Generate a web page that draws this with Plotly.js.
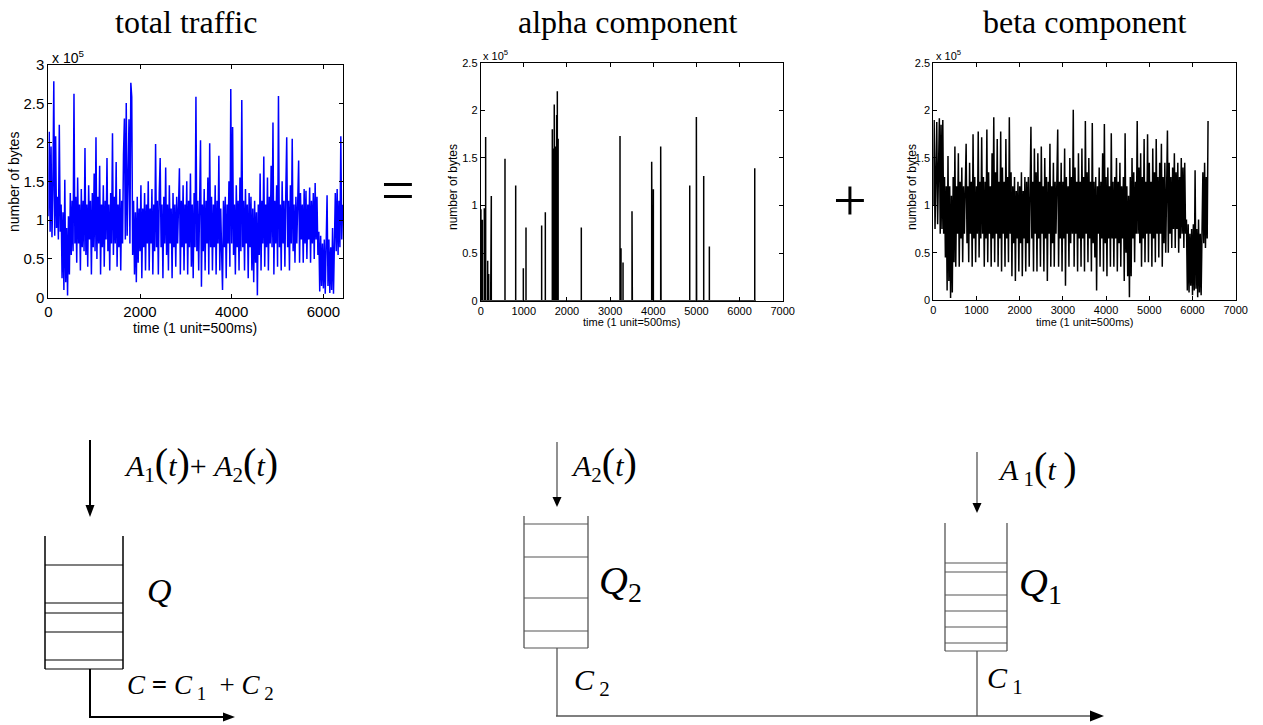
<!DOCTYPE html>
<html><head><meta charset="utf-8">
<script src="https://cdn.plot.ly/plotly-3.0.1.min.js"></script>
<style>html,body{margin:0;padding:0;background:#fff;} #chart{width:1263px;height:725px;}</style>
</head><body><div id="chart"></div>
<script>
// ---------------- DATA (values in units of 10^5 bytes) ----------------
const SAMPLE_STEP = 20; // time units (1 unit = 500 ms) between stored samples

const totalTraffic = [
  1.05, 2.14, 0.85, 1.95, 0.78, 1.40, 2.79, 0.80, 2.08, 0.90,
  1.30, 0.75, 2.23, 0.85, 1.20, 0.25, 1.10, 0.10, 1.52, 0.20,
  0.90, 0.03, 1.05, 0.30, 1.35, 0.55, 1.25, 0.60, 2.63, 0.70,
  1.30, 0.45, 1.55, 0.70, 1.20, 0.35, 1.40, 0.65, 1.25, 0.60,
  1.93, 0.55, 1.20, 0.40, 1.45, 0.75, 1.25, 0.30, 1.35, 0.65,
  1.60, 0.60, 2.07, 0.50, 1.30, 0.70, 1.70, 0.30, 1.20, 0.65,
  1.45, 0.40, 1.25, 0.75, 1.80, 0.60, 1.20, 0.35, 1.35, 0.70,
  2.12, 0.55, 1.30, 0.70, 1.75, 0.40, 1.20, 0.65, 1.40, 0.35,
  1.25, 0.70, 1.85, 2.31, 0.75, 2.51, 0.80, 1.60, 2.30, 0.70,
  2.77, 2.59, 0.55, 1.25, 0.30, 1.10, 0.20, 1.30, 0.45, 1.15,
  0.60, 1.45, 0.25, 1.15, 0.65, 1.35, 0.35, 1.20, 0.70, 1.50,
  0.35, 1.15, 0.70, 1.40, 0.30, 1.20, 0.60, 1.98, 0.65, 1.25,
  0.30, 1.35, 1.80, 0.65, 1.20, 0.25, 1.30, 0.70, 1.68, 0.55,
  1.20, 0.35, 1.45, 0.70, 1.15, 0.25, 1.35, 0.65, 1.20, 0.40,
  1.30, 0.70, 1.15, 1.67, 0.30, 1.25, 0.65, 1.45, 0.35, 1.20,
  0.70, 1.50, 0.30, 1.25, 0.65, 1.60, 0.40, 1.20, 0.25, 1.35,
  0.65, 2.59, 0.60, 1.25, 0.35, 1.45, 2.03, 0.14, 1.20, 0.60,
  1.40, 0.35, 1.25, 0.70, 1.55, 0.30, 1.99, 0.65, 1.30, 0.35,
  1.20, 0.65, 1.45, 0.30, 1.25, 0.70, 1.83, 0.35, 1.15, 0.60,
  0.10, 1.25, 0.65, 1.30, 0.25, 1.20, 0.70, 1.50, 0.40, 2.69,
  0.70, 2.20, 0.55, 1.20, 0.30, 1.45, 0.65, 1.25, 0.35, 1.55,
  0.60, 2.55, 0.65, 1.25, 0.35, 1.40, 0.70, 1.20, 0.25, 1.35,
  0.65, 1.30, 0.35, 1.15, 0.20, 1.25, 0.45, 1.10, 0.03, 1.20,
  0.55, 1.60, 0.35, 1.25, 0.70, 1.82, 0.40, 1.20, 0.65, 1.55,
  0.35, 1.30, 0.70, 1.70, 0.65, 2.26, 0.30, 1.25, 0.70, 1.45,
  0.40, 2.60, 0.65, 1.20, 0.35, 1.50, 0.70, 1.25, 0.40, 1.35,
  2.07, 0.65, 1.25, 0.35, 1.45, 0.70, 2.05, 0.60, 1.20, 0.45,
  1.30, 0.70, 1.20, 1.77, 0.45, 1.35, 0.75, 1.20, 0.45, 1.40,
  0.70, 1.38, 0.50, 1.20, 0.75, 1.42, 0.45, 1.25, 0.70, 1.35,
  0.50, 1.48, 0.75, 1.30, 0.55, 0.85, 0.08, 0.80, 0.15, 0.70,
  0.12, 0.75, 0.05, 0.60, 1.32, 0.15, 0.75, 0.06, 0.65, 0.10,
  0.90, 0.05, 0.80, 1.35, 0.60, 1.40, 0.55, 1.25, 0.65, 2.08,
  0.75, 1.20
];

const betaComponent = [
  1.00, 1.90, 0.75, 1.60, 1.88, 0.80, 1.35, 1.92, 0.70, 1.85,
  0.75, 1.90, 0.70, 1.30, 0.45, 1.20, 0.10, 1.52, 0.20, 1.20,
  0.02, 1.10, 0.08, 1.30, 0.40, 1.62, 0.35, 1.20, 0.70, 1.55,
  0.35, 1.25, 0.65, 1.40, 0.40, 1.20, 0.70, 1.35, 1.65, 0.60,
  1.20, 0.40, 1.45, 0.70, 1.25, 0.35, 1.75, 0.65, 1.30, 0.40,
  1.20, 0.70, 1.78, 0.45, 1.25, 0.65, 1.72, 0.70, 1.30, 0.35,
  1.25, 0.65, 1.80, 0.40, 1.35, 0.70, 1.20, 0.35, 1.55, 0.65,
  1.93, 0.40, 1.35, 0.70, 1.70, 0.35, 1.25, 0.65, 1.78, 0.30,
  1.40, 0.70, 1.25, 0.35, 1.70, 0.65, 1.30, 0.40, 1.93, 0.70,
  1.35, 0.25, 1.20, 0.60, 1.30, 0.20, 1.15, 0.65, 1.25, 0.30,
  1.20, 0.60, 1.35, 0.25, 1.15, 0.65, 1.30, 0.30, 1.25, 0.60,
  1.30, 0.35, 1.20, 1.83, 0.65, 1.25, 0.30, 1.60, 0.70, 1.35,
  0.30, 1.55, 0.65, 1.25, 0.35, 1.62, 0.70, 1.20, 0.30, 1.50,
  0.65, 1.30, 0.20, 1.25, 0.70, 1.65, 0.35, 1.20, 0.60, 1.45,
  0.35, 1.25, 0.70, 1.30, 1.80, 0.35, 1.25, 0.65, 1.45, 0.30,
  1.25, 0.65, 1.60, 0.15, 1.30, 0.70, 1.20, 0.35, 1.50, 0.60,
  1.30, 0.70, 2.01, 0.35, 1.40, 0.70, 1.25, 0.30, 1.55, 0.65,
  1.25, 0.35, 1.60, 0.65, 1.30, 0.30, 1.89, 0.70, 1.35, 0.40,
  1.50, 0.65, 1.25, 0.30, 1.87, 0.60, 1.25, 0.45, 1.30, 0.10,
  1.20, 0.70, 1.40, 0.35, 1.25, 0.65, 1.55, 0.30, 1.86, 0.60,
  1.30, 0.25, 1.40, 0.65, 1.20, 0.35, 1.76, 0.65, 1.25, 0.35,
  1.30, 0.65, 1.50, 0.30, 1.25, 0.60, 1.45, 0.35, 1.20, 0.65,
  1.30, 0.20, 1.76, 0.50, 1.20, 0.25, 1.10, 0.03, 1.30, 0.25,
  1.50, 0.65, 1.35, 0.40, 1.25, 0.70, 1.89, 0.70, 1.40, 0.60,
  1.55, 0.35, 1.30, 0.65, 1.70, 0.40, 1.25, 0.70, 1.75, 0.40,
  1.45, 0.70, 1.25, 0.35, 1.60, 0.65, 1.35, 0.40, 1.70, 0.70,
  1.30, 0.45, 1.45, 0.70, 1.65, 0.35, 1.30, 0.60, 1.45, 0.50,
  1.25, 1.79, 0.50, 1.45, 0.70, 1.30, 0.55, 1.40, 0.75, 1.55,
  0.55, 1.35, 0.75, 1.45, 0.50, 1.30, 0.65, 1.50, 0.70, 1.40,
  0.55, 1.45, 0.70, 0.85, 0.10, 0.80, 0.08, 0.70, 0.15, 0.75,
  0.05, 0.80, 0.10, 1.37, 0.12, 0.75, 0.03, 0.85, 0.08, 0.70,
  0.05, 0.85, 1.35, 0.60, 1.45, 0.55, 1.30, 0.65, 1.89
];

const alphaTime  = [5, 38, 84, 115, 162, 185, 231, 246, 563, 811, 988, 1050, 1413, 1498,
  1660, 1680, 1705, 1725, 1745, 1760, 1776, 1795, 2332, 3229, 3252, 3299, 3507, 3515,
  3963, 3975, 4002, 4172, 4180, 4845, 4999, 5005, 5169, 5300, 6352];
const alphaValue = [0.96, 0.85, 0.97, 1.72, 0.42, 0.28, 1.03, 1.10, 1.49, 1.21, 0.34, 0.77, 0.79, 0.93,
  1.80, 1.60, 2.06, 1.62, 1.60, 1.95, 2.20, 1.70, 0.77, 1.73, 0.55, 0.40, 0.94, 0.82,
  1.46, 1.24, 1.17, 1.62, 0.57, 1.21, 1.93, 1.38, 1.31, 0.57, 1.39];
const ALPHA_END = 6380;

const panelTitles = ["total traffic", "alpha component", "beta component"];
const yTickTotal = [0, 0.5, 1, 1.5, 2, 2.5, 3];
const yTickComp  = [0, 0.5, 1, 1.5, 2, 2.5];
const xTickTotal = [0, 2000, 4000, 6000];
const xTickComp  = [0, 1000, 2000, 3000, 4000, 5000, 6000, 7000];
const yAxisLabel = "number of bytes";
const xAxisLabel = "time (1 unit=500ms)";
const scaleLabel = "x 10<sup>5</sup>";

// ---------------- BUILD ----------------
const W = 1263, H = 725;
const X = p => p / W;
const Y = p => 1 - p / H;

const tTotal = totalTraffic.map((_, i) => i * SAMPLE_STEP);
const tBeta  = betaComponent.map((_, i) => i * SAMPLE_STEP);
const ax = [0], ay = [0];
alphaTime.forEach((t, i) => { ax.push(t, t, t); ay.push(0, alphaValue[i], 0); });
ax.push(ALPHA_END); ay.push(0);

const traces = [
  {x: tTotal, y: totalTraffic, type: 'scatter', mode: 'lines', line: {color: '#0000ff', width: 1.5}, xaxis: 'x', yaxis: 'y', hoverinfo: 'skip'},
  {x: ax, y: ay, type: 'scatter', mode: 'lines', line: {color: '#000', width: 1.5}, xaxis: 'x2', yaxis: 'y2', hoverinfo: 'skip'},
  {x: tBeta, y: betaComponent, type: 'scatter', mode: 'lines', line: {color: '#000', width: 1.5}, xaxis: 'x3', yaxis: 'y3', hoverinfo: 'skip'}
];

const sans = 'Liberation Sans, Arial, sans-serif';
const serif = 'Liberation Serif, Times New Roman, serif';

function axis(domain, range, tickvals, fontSize, anchor) {
  return {
    domain: domain, range: range, tickvals: tickvals, ticktext: tickvals.map(String),
    anchor: anchor, showgrid: false, zeroline: false, showline: true, mirror: 'ticks',
    linecolor: '#000', linewidth: 1, ticks: 'inside', ticklen: 4, tickcolor: '#000', tickwidth: 1,
    tickfont: {family: sans, size: fontSize, color: '#000'}, fixedrange: true
  };
}

// pixel boxes of the three axes: [left, right, top, bottom]
const boxes = [[48.3, 343.3, 65, 297.7], [480.7, 782.7, 62.7, 300.7], [933.3, 1235.7, 63.3, 300]];
const dx = b => [X(b[0]), X(b[1])];
const dy = b => [Y(b[3]), Y(b[2])];

const layout = {
  width: W, height: H, margin: {l: 0, r: 0, t: 0, b: 0},
  paper_bgcolor: '#fff', plot_bgcolor: '#fff', showlegend: false,
  xaxis:  axis(dx(boxes[0]), [0, 6434], xTickTotal, 15, 'y'),
  yaxis:  axis(dy(boxes[0]), [0, 3], yTickTotal, 15, 'x'),
  xaxis2: axis(dx(boxes[1]), [0, 7000], xTickComp, 11, 'y2'),
  yaxis2: axis(dy(boxes[1]), [0, 2.5], yTickComp, 11, 'x2'),
  xaxis3: axis(dx(boxes[2]), [0, 7000], xTickComp, 11, 'y3'),
  yaxis3: axis(dy(boxes[2]), [0, 2.5], yTickComp, 11, 'x3'),
  annotations: [], shapes: []
};

function txt(text, x, y, size, family, opts) {
  layout.annotations.push(Object.assign({
    text: text, x: X(x), y: Y(y), xref: 'paper', yref: 'paper', showarrow: false,
    xanchor: 'center', yanchor: 'middle', font: {family: family, size: size, color: '#000'}
  }, opts || {}));
}

// panel titles
txt(panelTitles[0], 186, 22, 32, serif);
txt(panelTitles[1], 628, 22, 32, serif);
txt(panelTitles[2], 1085, 22, 32, serif);
// axis labels
txt(yAxisLabel, 14, 182, 14, sans, {textangle: -90});
txt(xAxisLabel, 195, 328, 14, sans);
txt(scaleLabel, 50, 57, 14, sans, {xanchor: 'left'});
txt(yAxisLabel, 453, 187, 12, sans, {textangle: -90});
txt(xAxisLabel, 632, 322, 11, sans);
txt(scaleLabel, 481, 55, 11, sans, {xanchor: 'left'});
txt(yAxisLabel, 912, 187, 12, sans, {textangle: -90});
txt(xAxisLabel, 1085, 322, 11, sans);
txt(scaleLabel, 934, 55, 11, sans, {xanchor: 'left'});
// operators
txt('=', 398, 190, 60, serif);
txt('+', 850, 200, 60, serif);

// diagram text
const big = s => '<span style="font-size:40px">' + s + '</span>';
txt('<i>A</i><sub>1</sub>' + big('(') + '<i>t</i>' + big(')') + '+ <i>A</i><sub>2</sub>' + big('(') + '<i>t</i>' + big(')'), 201, 463, 30, serif);
txt('<i>Q</i>', 160, 590, 34, serif);
txt('<i>C</i> <b>=</b> <i>C</i><sub> 1</sub>  + <i>C</i><sub> 2</sub>', 200, 687, 27, serif);
txt('<i>A</i><sub>2</sub>' + big('(') + '<i>t</i>' + big(')'), 604, 463, 30, serif);
txt('<i>Q</i><sub>2</sub>', 620, 583, 40, serif);
txt('<i>C</i><sub> 2</sub>', 592, 682, 30, serif);
txt('<i>A</i><sub> 1</sub>' + big('(') + '<i>t</i> ' + big(')'), 1037, 467, 30, serif);
txt('<i>Q</i><sub>1</sub>', 1040, 585, 40, serif);
txt('<i>C</i><sub> 1</sub>', 1005, 680, 30, serif);

// diagram shapes
function seg(x0, y0, x1, y1, color, w) {
  layout.shapes.push({type: 'line', xref: 'paper', yref: 'paper', x0: X(x0), y0: Y(y0), x1: X(x1), y1: Y(y1),
    line: {color: color, width: w}});
}
function tri(pts, color) {
  const d = 'M ' + pts.map(p => X(p[0]) + ',' + Y(p[1])).join(' L ') + ' Z';
  layout.shapes.push({type: 'path', xref: 'paper', yref: 'paper', path: d, fillcolor: color, line: {width: 0}});
}
function queue(l, r, top, bottom, lines, color, w, lw) {
  seg(l, top, l, bottom, color, w);
  seg(r, top, r, bottom, color, w);
  lines.forEach(y => seg(l, y, r, y, color, lw));
  seg(l, bottom, r, bottom, color, lw);
}
// left
seg(90, 440, 90, 508, '#000', 2);
tri([[85.5, 505], [94.5, 505], [90, 517]], '#000');
queue(45, 123, 536, 669, [565, 603, 613, 632, 660], '#000', 1.5, 1.2);
seg(90, 669, 90, 717, '#000', 2);
seg(89, 717, 226, 717, '#000', 2);
tri([[223, 712.5], [223, 721.5], [235, 717]], '#000');
// middle
const g = '#555';
seg(557, 442, 557, 499, g, 1.3);
tri([[552.5, 497], [561.5, 497], [557, 507]], '#000');
queue(524, 588, 516, 648, [524, 557, 598, 631], g, 1.3, 1.2);
seg(557, 648, 557, 716, g, 1.3);
seg(556, 716, 1092, 716, g, 1.5);
tri([[1090, 710.5], [1090, 721.5], [1104, 716]], '#000');
// right
seg(977, 452, 977, 505, g, 1.3);
tri([[972.5, 503], [981.5, 503], [977, 513]], '#000');
queue(945, 1007, 523, 651, [563, 572, 595, 611, 627, 643], g, 1.3, 1.2);
seg(977, 651, 977, 716, g, 1.3);

Plotly.newPlot('chart', traces, layout, {displayModeBar: false, staticPlot: true});
</script>
</body></html>
